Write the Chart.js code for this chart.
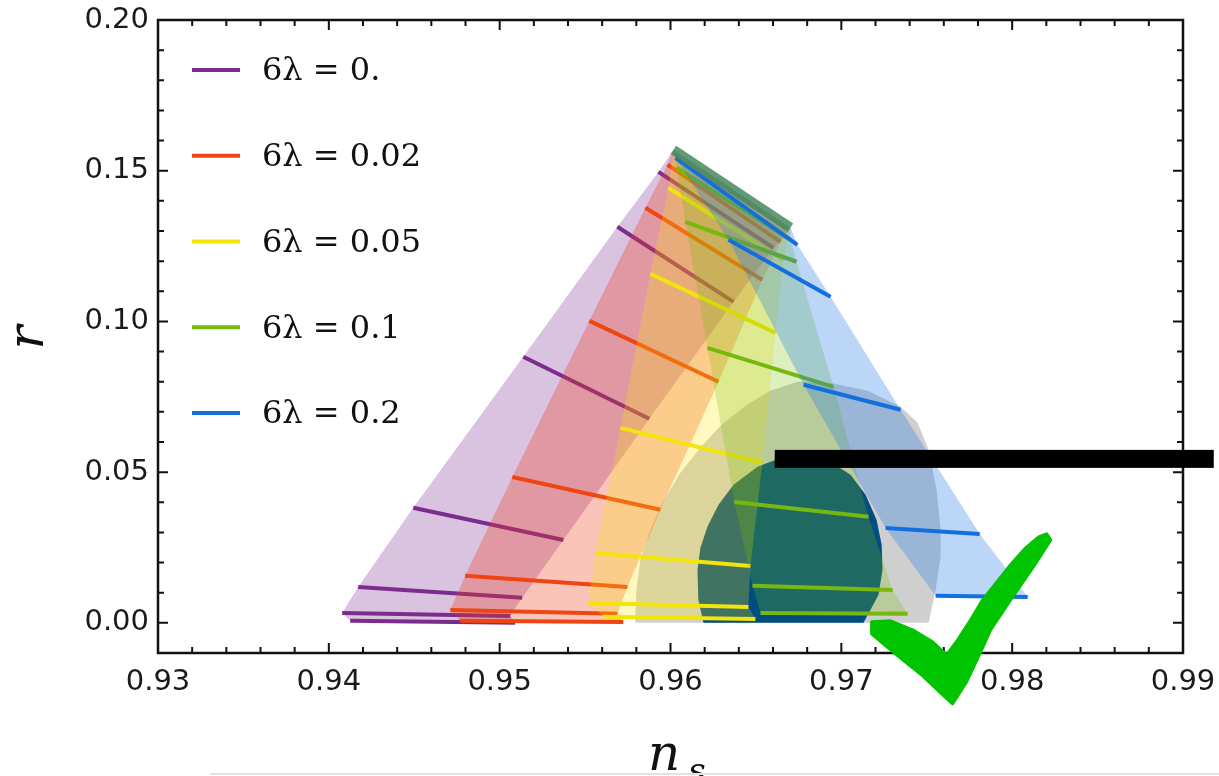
<!DOCTYPE html>
<html>
<head>
<meta charset="utf-8">
<script src="https://cdn.jsdelivr.net/npm/chart.js@4.4.1/dist/chart.umd.min.js"></script>
<style>
  html, body { margin: 0; padding: 0; background: #fff; }
</style>
</head>
<body>
<canvas id="chart" width="1219" height="776"></canvas>
<script>
// axes
const xTicks = [0.93, 0.94, 0.95, 0.96, 0.97, 0.98, 0.99];
const yTicks = [0.00, 0.05, 0.10, 0.15, 0.20];

const lambdaLabels = ['6λ = 0.', '6λ = 0.02', '6λ = 0.05', '6λ = 0.1', '6λ = 0.2'];

// end points of the quadratic attractor (N = 50, N = 60)
const apexNs = [0.96017, 0.96702];
const apexR = [0.1569, 0.1311];

// 6λ = 0 : N = 50 ends and N = 60 ends, bottom to top
const ns50_0 = [0.94125, 0.94078, 0.94172, 0.94494, 0.95138, 0.95689, 0.95929];
const r50_0  = [0.0007, 0.0033, 0.0119, 0.0382, 0.0883, 0.1314, 0.1496];
const ns60_0 = [0.95091, 0.95062, 0.95132, 0.95373, 0.95876, 0.96369, 0.96603];
const r60_0  = [0.0000, 0.0023, 0.0083, 0.0275, 0.0677, 0.1065, 0.1244];

// 6λ = 0.02
const ns50_1 = [0.94769, 0.94711, 0.94798, 0.95074, 0.95525, 0.95853, 0.95982];
const r50_1  = [0.0007, 0.0043, 0.0156, 0.0484, 0.1002, 0.1377, 0.1520];
const ns60_1 = [0.95724, 0.95689, 0.95748, 0.95941, 0.96281, 0.96538, 0.96644];
const r60_1  = [0.0003, 0.0030, 0.0119, 0.0375, 0.0800, 0.1138, 0.1264];

// 6λ = 0.05
const ns50_2 = [0.95607, 0.95519, 0.95560, 0.95707, 0.95882, 0.95988];
const r50_2  = [0.0020, 0.0066, 0.0232, 0.0647, 0.1158, 0.1443];
const ns60_2 = [0.96497, 0.96456, 0.96468, 0.96538, 0.96615, 0.96661];
const r60_2  = [0.0013, 0.0053, 0.0189, 0.0531, 0.0962, 0.1204];

// 6λ = 0.1
const ns50_3 = [0.96527, 0.96480, 0.96374, 0.96216, 0.96087, 0.96035];
const r50_3  = [0.0033, 0.0123, 0.0401, 0.0912, 0.1330, 0.1510];
const ns60_3 = [0.97388, 0.97300, 0.97159, 0.96954, 0.96738, 0.96702];
const r60_3  = [0.0030, 0.0109, 0.0352, 0.0783, 0.1198, 0.1271];

// 6λ = 0.2
const ns50_4 = [0.97552, 0.97259, 0.96779, 0.96339, 0.96029];
const r50_4  = [0.0090, 0.0315, 0.0790, 0.1271, 0.1543];
const ns60_4 = [0.98091, 0.97810, 0.97347, 0.96937, 0.96743];
const r60_4  = [0.0086, 0.0295, 0.0707, 0.1082, 0.1254];

// Planck contours (95% and 68%)
const p95Ns = [0.95794, 0.95800, 0.95824, 0.95882, 0.95953, 0.96058, 0.96175, 0.96292, 0.96439, 0.96585, 0.96743,
               0.96937, 0.97154, 0.97347, 0.97446, 0.97511, 0.97558, 0.97581, 0.97581, 0.97552, 0.97511];
const p95R  = [0.0000, 0.0109, 0.0209, 0.0309, 0.0398, 0.0498, 0.0581, 0.0654, 0.0720, 0.0770, 0.0800,
               0.0796, 0.0770, 0.0717, 0.0664, 0.0574, 0.0441, 0.0309, 0.0219, 0.0109, 0.0000];
const p68Ns = [0.96193, 0.96163, 0.96158, 0.96175, 0.96216, 0.96281, 0.96369, 0.96509, 0.96644, 0.96790,
               0.96937, 0.97054, 0.97142, 0.97206, 0.97236, 0.97241, 0.97218, 0.97130];
const p68R  = [0.0000, 0.0076, 0.0176, 0.0249, 0.0319, 0.0392, 0.0458, 0.0518, 0.0547, 0.0554,
               0.0534, 0.0491, 0.0425, 0.0342, 0.0259, 0.0176, 0.0093, 0.0000];

// overlay marks on the picture
const barNs = [0.9661, 0.9918];
const barR = 0.0544;
const checkNs = [0.97177, 0.97288, 0.97417, 0.97534, 0.97616, 0.97681, 0.97757, 0.97827, 0.97980, 0.98079,
                 0.98155, 0.98202, 0.98226, 0.98132, 0.97991, 0.97874, 0.97816, 0.97733, 0.97651, 0.97581,
                 0.97476, 0.97359, 0.97253, 0.97177];
const checkR  = [0.00033, 0.00066, -0.00232, -0.00630, -0.01062, -0.00564, 0.00100, 0.00763, 0.01858, 0.02488,
                 0.02853, 0.02953, 0.02754, 0.01924, 0.00763, -0.00232, -0.00962, -0.01958, -0.02687, -0.02323,
                 -0.01758, -0.01228, -0.00730, -0.00365];

const bands = [
    { ns50: ns50_0, r50: r50_0, ns60: ns60_0, r60: r60_0, line: '#7b2d8e', fill: 'rgba(150,80,170,0.35)' },
    { ns50: ns50_1, r50: r50_1, ns60: ns60_1, r60: r60_1, line: '#ee4512', fill: 'rgba(240,60,20,0.30)' },
    { ns50: ns50_2, r50: r50_2, ns60: ns60_2, r60: r60_2, line: '#f2e40c', fill: 'rgba(255,230,0,0.25)' },
    { ns50: ns50_3, r50: r50_3, ns60: ns60_3, r60: r60_3, line: '#76b80f', fill: 'rgba(120,190,0,0.25)' },
    { ns50: ns50_4, r50: r50_4, ns60: ns60_4, r60: r60_4, line: '#1270de', fill: 'rgba(30,120,230,0.30)' }
];

function pts(ns, r) {
    return ns.map((v, i) => ({ x: v, y: r[i] }));
}

const datasets = [];
const noLine = 'rgba(0,0,0,0)';

// Planck regions first, underneath
datasets.push({ data: pts(p95Ns, p95R), fill: 'shape', backgroundColor: 'rgba(140,140,140,0.42)', borderColor: noLine, borderWidth: 0 });
datasets.push({ data: pts(p68Ns, p68R), fill: 'shape', backgroundColor: '#004d82', borderColor: noLine, borderWidth: 0 });

// each λ: band between N=50 and N=60, then the segments
bands.forEach(b => {
    const outline = pts(b.ns50, b.r50).concat(pts(apexNs, apexR), pts(b.ns60, b.r60).reverse());
    datasets.push({ data: outline, fill: 'shape', backgroundColor: b.fill, borderColor: noLine, borderWidth: 0 });
    b.ns50.forEach((v, i) => {
        datasets.push({
            data: [{ x: v, y: b.r50[i] }, { x: b.ns60[i], y: b.r60[i] }],
            borderColor: b.line, borderWidth: 4, fill: false
        });
    });
});

// all bands meet on the quadratic line at the top
datasets.push({ data: pts(apexNs, apexR), borderColor: 'rgba(70,135,95,0.85)', borderWidth: 10, fill: false });

datasets.forEach((d, i) => {
    d.order = datasets.length - i;
    d.showLine = true;
    d.pointRadius = 0;
    d.pointHoverRadius = 0;
    d.tension = 0;
});

// frame, inward ticks, legend, axis titles, overlays
const decor = {
    id: 'decor',
    afterDraw(chart) {
        const { ctx, chartArea: a, scales: { x, y } } = chart;
        ctx.save();

        // ticks
        ctx.strokeStyle = '#111';
        ctx.lineWidth = 2;
        ctx.beginPath();
        for (let i = 1; i < 30; i++) {
            const px = x.getPixelForValue(0.93 + i * 0.002);
            const len = i % 5 === 0 ? 10 : 6;
            ctx.moveTo(px, a.bottom); ctx.lineTo(px, a.bottom - len);
            ctx.moveTo(px, a.top); ctx.lineTo(px, a.top + len);
        }
        for (let i = 1; i < 21; i++) {
            const py = y.getPixelForValue(-0.01 + i * 0.01);
            const len = (i - 1) % 5 === 0 ? 10 : 6;
            ctx.moveTo(a.left, py); ctx.lineTo(a.left + len, py);
            ctx.moveTo(a.right, py); ctx.lineTo(a.right - len, py);
        }
        ctx.stroke();
        ctx.lineWidth = 2.5;
        ctx.strokeRect(a.left, a.top, a.right - a.left, a.bottom - a.top);

        // legend
        ctx.font = '32px "DejaVu Serif"';
        ctx.textBaseline = 'middle';
        ctx.fillStyle = '#111';
        bands.forEach((b, i) => {
            const ly = a.top + 50 + i * 85.75;
            ctx.strokeStyle = b.line;
            ctx.lineWidth = 4;
            ctx.beginPath();
            ctx.moveTo(a.left + 34, ly); ctx.lineTo(a.left + 82, ly);
            ctx.stroke();
            ctx.fillText(lambdaLabels[i], a.left + 104, ly + 2);
        });

        // axis titles
        ctx.font = 'italic 50px "DejaVu Serif"';
        ctx.textAlign = 'center';
        ctx.save();
        ctx.translate(30, (a.top + a.bottom) / 2 + 1);
        ctx.rotate(-Math.PI / 2);
        ctx.fillText('r', 0, 0);
        ctx.restore();
        ctx.textBaseline = 'alphabetic';
        ctx.fillText('n', 664, 770);
        ctx.font = 'italic 34px "DejaVu Serif"';
        ctx.fillText('s', 697, 782);

        // overlays: black bar and green check mark
        ctx.fillStyle = '#000';
        const bx0 = x.getPixelForValue(barNs[0]);
        const bx1 = x.getPixelForValue(barNs[1]);
        const by = y.getPixelForValue(barR);
        ctx.fillRect(bx0, by - 9, bx1 - bx0, 18);

        ctx.fillStyle = '#00c400';
        ctx.strokeStyle = '#00c400';
        ctx.lineWidth = 3;
        ctx.lineJoin = 'round';
        ctx.beginPath();
        checkNs.forEach((v, i) => {
            const px = x.getPixelForValue(v), py = y.getPixelForValue(checkR[i]);
            if (i === 0) ctx.moveTo(px, py); else ctx.lineTo(px, py);
        });
        ctx.closePath();
        ctx.fill();
        ctx.stroke();

        // faint line at the very bottom of the picture
        ctx.strokeStyle = '#e2e2e2';
        ctx.lineWidth = 2;
        ctx.beginPath();
        ctx.moveTo(210, 774); ctx.lineTo(1219, 774);
        ctx.stroke();
        ctx.restore();
    }
};

const tickFont = { family: '"DejaVu Sans"', size: 29 };

new Chart(document.getElementById('chart'), {
    type: 'scatter',
    data: { datasets },
    options: {
        responsive: false,
        animation: false,
        events: [],
        layout: { padding: { left: 0, right: 36, top: 20, bottom: 0 } },
        plugins: { legend: { display: false }, tooltip: { enabled: false } },
        scales: {
            x: {
                type: 'linear', min: 0.93, max: 0.99,
                grid: { display: false, drawTicks: false },
                border: { display: false },
                afterBuildTicks: s => { s.ticks = xTicks.map(v => ({ value: v })); },
                afterFit: s => { s.height = 123; s.paddingLeft = 0; s.paddingRight = 0; },
                ticks: { padding: 12, color: '#1a1a1a', font: tickFont, maxRotation: 0, callback: v => v.toFixed(2) }
            },
            y: {
                type: 'linear', min: -0.01, max: 0.20,
                grid: { display: false, drawTicks: false },
                border: { display: false },
                afterBuildTicks: s => { s.ticks = yTicks.map(v => ({ value: v })); },
                afterFit: s => { s.width = 158; s.paddingTop = 0; s.paddingBottom = 0; },
                ticks: { padding: 9, color: '#1a1a1a', font: tickFont, callback: v => v.toFixed(2) }
            }
        }
    },
    plugins: [decor]
});
</script>
</body>
</html>
